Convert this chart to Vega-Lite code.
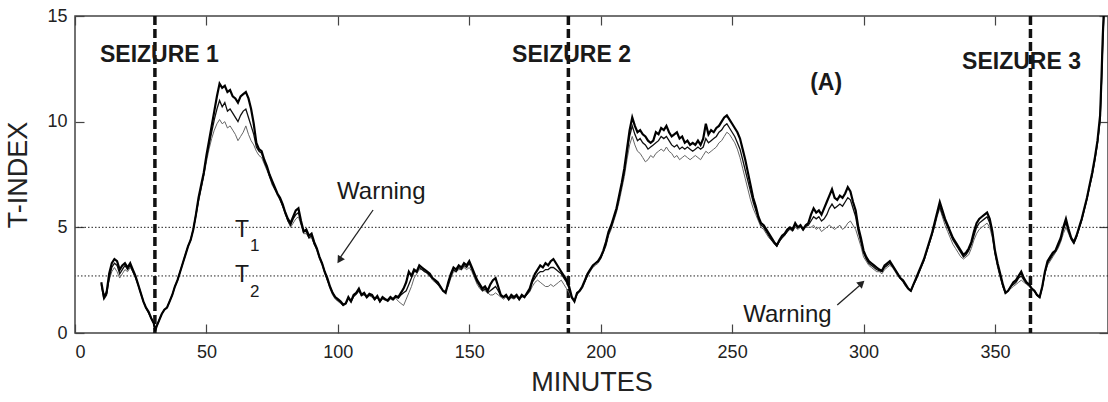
{
"$schema": "https://vega.github.io/schema/vega-lite/v6.json",
"width": 1033, "height": 317,
"autosize": {"type": "none"},
"padding": {"left": 75, "top": 16, "right": 0, "bottom": 69},
"background": "white",
"config": {
  "font": "Liberation Sans",
  "view": {"stroke": "#444", "strokeWidth": 1.5},
  "axis": {"domain": false, "grid": false, "tickSize": -9, "tickColor": "#444", "tickWidth": 1.2, "labelFontSize": 18, "labelColor": "#222", "labelFont": "Liberation Sans", "titleFont": "Liberation Sans", "titleFontSize": 27, "titleFontWeight": "normal", "titleColor": "#222"}
},
"datasets": {
"curves": [
{"m":10,"a":2.4,"b":2.3,"c":2.2},{"m":11,"a":1.7,"b":1.6,"c":1.8},{"m":12,"a":1.9,"b":1.8,"c":2.0},{"m":13,"a":2.8,"b":2.6,"c":2.5},{"m":14,"a":3.3,"b":3.1,"c":2.9},{"m":15,"a":3.5,"b":3.3,"c":3.1},{"m":16,"a":3.4,"b":3.2,"c":2.9},{"m":17,"a":3.0,"b":2.8,"c":2.6},{"m":18,"a":3.2,"b":3.0,"c":2.8},{"m":19,"a":3.3,"b":3.2,"c":3.0},
{"m":20,"a":3.1,"b":3.0,"c":2.9},{"m":21,"a":3.3,"b":3.2,"c":3.1},{"m":22,"a":3.0,"b":2.9,"c":2.9},{"m":23,"a":2.7,"b":2.65,"c":2.6},{"m":24,"a":2.3,"b":2.3,"c":2.25},{"m":25,"a":1.9,"b":1.9,"c":1.85},{"m":26,"a":1.5,"b":1.5,"c":1.5},{"m":27,"a":1.2,"b":1.2,"c":1.2},{"m":28,"a":1.0,"b":0.95,"c":0.95},{"m":29,"a":0.7,"b":0.7,"c":0.7},
{"m":30,"a":0.45,"b":0.45,"c":0.45},{"m":30.5,"a":0.1,"b":0.1,"c":0.1},{"m":31,"a":0.3,"b":0.3,"c":0.3},{"m":32,"a":0.6,"b":0.6,"c":0.6},{"m":33,"a":0.9,"b":0.9,"c":0.9},{"m":34,"a":1.1,"b":1.1,"c":1.1},{"m":35,"a":1.2,"b":1.2,"c":1.2},{"m":36,"a":1.5,"b":1.5,"c":1.5},{"m":37,"a":1.8,"b":1.8,"c":1.8},{"m":38,"a":2.2,"b":2.2,"c":2.2},{"m":39,"a":2.5,"b":2.5,"c":2.5},
{"m":40,"a":2.9,"b":2.9,"c":2.9},{"m":41,"a":3.3,"b":3.3,"c":3.3},{"m":42,"a":3.7,"b":3.7,"c":3.7},{"m":43,"a":4.1,"b":4.1,"c":4.1},{"m":44,"a":4.4,"b":4.4,"c":4.4},{"m":45,"a":4.9,"b":4.9,"c":4.9},{"m":46,"a":5.6,"b":5.6,"c":5.5},{"m":47,"a":6.4,"b":6.3,"c":6.2},{"m":48,"a":7.0,"b":6.9,"c":6.8},{"m":49,"a":7.6,"b":7.5,"c":7.4},
{"m":50,"a":8.4,"b":8.3,"c":8.1},{"m":51,"a":9.1,"b":8.9,"c":8.7},{"m":52,"a":9.8,"b":9.5,"c":9.2},{"m":53,"a":10.5,"b":10.1,"c":9.6},{"m":54,"a":11.2,"b":10.6,"c":9.9},{"m":55,"a":11.8,"b":11.0,"c":10.1},{"m":56,"a":11.6,"b":10.7,"c":9.9},{"m":57,"a":11.7,"b":10.9,"c":10.0},{"m":58,"a":11.4,"b":10.5,"c":9.7},{"m":59,"a":11.5,"b":10.6,"c":9.8},
{"m":60,"a":11.2,"b":10.4,"c":9.6},{"m":61,"a":11.1,"b":10.2,"c":9.4},{"m":62,"a":10.9,"b":10.0,"c":9.1},{"m":63,"a":11.2,"b":10.3,"c":9.3},{"m":64,"a":11.3,"b":10.5,"c":9.5},{"m":65,"a":11.4,"b":10.6,"c":9.8},{"m":66,"a":11.1,"b":10.2,"c":9.4},{"m":67,"a":10.6,"b":9.8,"c":9.1},{"m":68,"a":9.9,"b":9.4,"c":8.9},{"m":69,"a":9.0,"b":8.8,"c":8.6},
{"m":70,"a":8.7,"b":8.6,"c":8.4},{"m":71,"a":8.6,"b":8.5,"c":8.3},{"m":72,"a":8.2,"b":8.1,"c":8.0},{"m":73,"a":7.9,"b":7.8,"c":7.7},{"m":74,"a":7.5,"b":7.4,"c":7.4},{"m":75,"a":7.2,"b":7.1,"c":7.0},{"m":76,"a":6.9,"b":6.8,"c":6.8},{"m":77,"a":6.6,"b":6.6,"c":6.5},{"m":78,"a":6.4,"b":6.3,"c":6.3},{"m":79,"a":6.1,"b":6.0,"c":6.0},
{"m":80,"a":5.7,"b":5.7,"c":5.6},{"m":81,"a":5.4,"b":5.3,"c":5.3},{"m":82,"a":5.2,"b":5.1,"c":5.0},{"m":83,"a":5.5,"b":5.4,"c":5.2},{"m":84,"a":5.8,"b":5.6,"c":5.4},{"m":85,"a":5.9,"b":5.7,"c":5.5},{"m":86,"a":5.3,"b":5.2,"c":5.1},{"m":87,"a":4.8,"b":4.8,"c":4.7},{"m":88,"a":4.9,"b":4.8,"c":4.7},{"m":89,"a":4.6,"b":4.5,"c":4.5},
{"m":90,"a":4.7,"b":4.6,"c":4.5},{"m":91,"a":4.3,"b":4.2,"c":4.2},{"m":92,"a":4.0,"b":4.0,"c":3.9},{"m":93,"a":3.6,"b":3.6,"c":3.5},{"m":94,"a":3.3,"b":3.3,"c":3.2},{"m":95,"a":2.9,"b":2.9,"c":2.8},{"m":96,"a":2.6,"b":2.5,"c":2.5},{"m":97,"a":2.2,"b":2.2,"c":2.1},{"m":98,"a":1.9,"b":1.9,"c":1.8},{"m":99,"a":1.7,"b":1.7,"c":1.6},
{"m":100,"a":1.6,"b":1.55,"c":1.5},{"m":101,"a":1.5,"b":1.45,"c":1.4},{"m":102,"a":1.35,"b":1.3,"c":1.3},{"m":103,"a":1.4,"b":1.4,"c":1.35},{"m":104,"a":1.7,"b":1.65,"c":1.6},{"m":105,"a":1.5,"b":1.5,"c":1.45},{"m":106,"a":1.8,"b":1.75,"c":1.7},{"m":107,"a":1.9,"b":1.85,"c":1.8},{"m":108,"a":2.1,"b":2.0,"c":2.0},{"m":109,"a":1.8,"b":1.8,"c":1.75},
{"m":110,"a":1.9,"b":1.85,"c":1.8},{"m":111,"a":1.7,"b":1.7,"c":1.65},{"m":112,"a":1.85,"b":1.8,"c":1.75},{"m":113,"a":1.8,"b":1.75,"c":1.7},{"m":114,"a":1.6,"b":1.6,"c":1.55},{"m":115,"a":1.75,"b":1.7,"c":1.7},{"m":116,"a":1.5,"b":1.5,"c":1.45},{"m":117,"a":1.7,"b":1.65,"c":1.6},{"m":118,"a":1.6,"b":1.6,"c":1.55},{"m":119,"a":1.55,"b":1.5,"c":1.5},
{"m":120,"a":1.7,"b":1.65,"c":1.6},{"m":121,"a":1.6,"b":1.6,"c":1.55},{"m":122,"a":1.75,"b":1.7,"c":1.65},{"m":123,"a":1.7,"b":1.65,"c":1.5},{"m":124,"a":1.9,"b":1.8,"c":1.4},{"m":125,"a":2.1,"b":1.9,"c":1.3},{"m":126,"a":2.4,"b":2.0,"c":1.6},{"m":127,"a":2.9,"b":2.3,"c":1.9},{"m":128,"a":2.7,"b":2.6,"c":2.2},{"m":129,"a":3.0,"b":2.9,"c":2.6},
{"m":130,"a":2.9,"b":2.9,"c":2.8},{"m":131,"a":3.2,"b":3.1,"c":3.0},{"m":132,"a":3.1,"b":3.0,"c":3.0},{"m":133,"a":3.0,"b":2.9,"c":2.9},{"m":134,"a":2.9,"b":2.85,"c":2.8},{"m":135,"a":2.8,"b":2.7,"c":2.7},{"m":136,"a":2.6,"b":2.6,"c":2.5},{"m":137,"a":2.5,"b":2.45,"c":2.4},{"m":138,"a":2.4,"b":2.3,"c":2.3},{"m":139,"a":2.2,"b":2.2,"c":2.1},
{"m":140,"a":2.0,"b":2.0,"c":2.0},{"m":141,"a":1.9,"b":1.95,"c":2.0},{"m":142,"a":2.4,"b":2.3,"c":2.2},{"m":143,"a":2.8,"b":2.7,"c":2.6},{"m":144,"a":3.1,"b":3.0,"c":2.9},{"m":145,"a":3.0,"b":2.9,"c":2.9},{"m":146,"a":3.2,"b":3.1,"c":3.0},{"m":147,"a":3.1,"b":3.0,"c":3.0},{"m":148,"a":3.3,"b":3.2,"c":3.1},{"m":149,"a":3.2,"b":3.1,"c":3.0},
{"m":150,"a":3.4,"b":3.3,"c":3.1},{"m":151,"a":3.1,"b":3.0,"c":2.9},{"m":152,"a":2.8,"b":2.7,"c":2.6},{"m":153,"a":2.5,"b":2.4,"c":2.3},{"m":154,"a":2.3,"b":2.2,"c":2.1},{"m":155,"a":2.1,"b":2.0,"c":2.0},{"m":156,"a":2.2,"b":2.1,"c":2.0},{"m":157,"a":2.0,"b":1.9,"c":1.9},{"m":158,"a":2.3,"b":2.0,"c":1.8},{"m":159,"a":2.5,"b":2.1,"c":1.8},
{"m":160,"a":2.6,"b":2.2,"c":1.9},{"m":161,"a":2.2,"b":2.0,"c":1.8},{"m":162,"a":1.8,"b":1.75,"c":1.7},{"m":163,"a":1.7,"b":1.7,"c":1.6},{"m":164,"a":1.8,"b":1.75,"c":1.7},{"m":165,"a":1.6,"b":1.6,"c":1.55},{"m":166,"a":1.8,"b":1.7,"c":1.65},{"m":167,"a":1.7,"b":1.65,"c":1.6},{"m":168,"a":1.8,"b":1.75,"c":1.7},{"m":169,"a":1.6,"b":1.6,"c":1.55},
{"m":170,"a":1.8,"b":1.75,"c":1.7},{"m":171,"a":1.7,"b":1.7,"c":1.7},{"m":172,"a":1.9,"b":1.85,"c":1.8},{"m":173,"a":2.1,"b":2.0,"c":1.95},{"m":174,"a":2.5,"b":2.4,"c":2.2},{"m":175,"a":2.8,"b":2.6,"c":2.4},{"m":176,"a":3.0,"b":2.8,"c":2.5},{"m":177,"a":3.2,"b":2.9,"c":2.4},{"m":178,"a":3.1,"b":2.9,"c":2.3},{"m":179,"a":3.3,"b":3.0,"c":2.2},
{"m":180,"a":3.2,"b":3.0,"c":2.2},{"m":181,"a":3.4,"b":3.1,"c":2.3},{"m":182,"a":3.5,"b":3.1,"c":2.2},{"m":183,"a":3.3,"b":3.0,"c":2.3},{"m":184,"a":3.1,"b":2.9,"c":2.4},{"m":185,"a":2.9,"b":2.8,"c":2.5},{"m":186,"a":2.7,"b":2.6,"c":2.3},{"m":187,"a":2.5,"b":2.4,"c":2.1},{"m":188,"a":2.2,"b":2.1,"c":1.9},{"m":189,"a":1.7,"b":1.7,"c":1.6},
{"m":190,"a":1.5,"b":1.5,"c":1.5},{"m":191,"a":1.9,"b":1.85,"c":1.8},{"m":192,"a":2.0,"b":2.0,"c":1.95},{"m":193,"a":2.2,"b":2.2,"c":2.1},{"m":194,"a":2.5,"b":2.45,"c":2.4},{"m":195,"a":2.8,"b":2.75,"c":2.7},{"m":196,"a":3.0,"b":3.0,"c":2.9},{"m":197,"a":3.2,"b":3.15,"c":3.1},{"m":198,"a":3.3,"b":3.3,"c":3.2},{"m":199,"a":3.4,"b":3.4,"c":3.3},
{"m":200,"a":3.6,"b":3.55,"c":3.5},{"m":201,"a":3.9,"b":3.85,"c":3.8},{"m":202,"a":4.3,"b":4.2,"c":4.1},{"m":203,"a":4.8,"b":4.7,"c":4.6},{"m":204,"a":5.1,"b":5.0,"c":4.9},{"m":205,"a":5.5,"b":5.4,"c":5.3},{"m":206,"a":5.9,"b":5.8,"c":5.7},{"m":207,"a":6.5,"b":6.4,"c":6.2},{"m":208,"a":7.1,"b":7.0,"c":6.8},{"m":209,"a":7.8,"b":7.6,"c":7.4},
{"m":210,"a":8.7,"b":8.5,"c":8.2},{"m":211,"a":9.6,"b":9.3,"c":8.9},{"m":212,"a":10.2,"b":9.8,"c":9.3},{"m":213,"a":9.8,"b":9.4,"c":8.9},{"m":214,"a":9.5,"b":9.1,"c":8.6},{"m":215,"a":9.6,"b":9.2,"c":8.5},{"m":216,"a":9.4,"b":9.0,"c":8.3},{"m":217,"a":9.3,"b":8.9,"c":8.1},{"m":218,"a":9.1,"b":8.7,"c":8.2},{"m":219,"a":9.0,"b":8.8,"c":8.4},
{"m":220,"a":9.1,"b":8.9,"c":8.3},{"m":221,"a":9.5,"b":9.0,"c":8.5},{"m":222,"a":9.4,"b":9.1,"c":8.6},{"m":223,"a":9.7,"b":9.3,"c":8.7},{"m":224,"a":9.6,"b":9.2,"c":8.6},{"m":225,"a":9.8,"b":9.3,"c":8.8},{"m":226,"a":9.5,"b":9.1,"c":8.6},{"m":227,"a":9.3,"b":8.9,"c":8.5},{"m":228,"a":9.4,"b":8.8,"c":8.3},{"m":229,"a":9.5,"b":8.9,"c":8.4},
{"m":230,"a":9.2,"b":8.7,"c":8.2},{"m":231,"a":9.3,"b":8.8,"c":8.3},{"m":232,"a":9.0,"b":8.7,"c":8.4},{"m":233,"a":9.1,"b":8.8,"c":8.3},{"m":234,"a":8.9,"b":8.7,"c":8.2},{"m":235,"a":9.0,"b":8.6,"c":8.3},{"m":236,"a":8.9,"b":8.7,"c":8.4},{"m":237,"a":9.1,"b":8.8,"c":8.3},{"m":238,"a":8.9,"b":8.7,"c":8.2},{"m":239,"a":9.2,"b":8.8,"c":8.4},
{"m":240,"a":9.9,"b":9.2,"c":8.6},{"m":241,"a":9.4,"b":9.0,"c":8.5},{"m":242,"a":9.6,"b":9.1,"c":8.6},{"m":243,"a":9.5,"b":9.2,"c":8.7},{"m":244,"a":9.7,"b":9.3,"c":8.8},{"m":245,"a":9.8,"b":9.5,"c":9.0},{"m":246,"a":10.0,"b":9.6,"c":9.1},{"m":247,"a":10.2,"b":9.8,"c":9.3},{"m":248,"a":10.3,"b":9.9,"c":9.5},{"m":249,"a":10.1,"b":9.7,"c":9.4},
{"m":250,"a":9.9,"b":9.5,"c":9.2},{"m":251,"a":9.7,"b":9.3,"c":9.0},{"m":252,"a":9.5,"b":9.0,"c":8.7},{"m":253,"a":9.2,"b":8.7,"c":8.3},{"m":254,"a":8.7,"b":8.2,"c":7.8},{"m":255,"a":8.2,"b":7.7,"c":7.3},{"m":256,"a":7.6,"b":7.2,"c":6.8},{"m":257,"a":7.0,"b":6.7,"c":6.3},{"m":258,"a":6.4,"b":6.2,"c":5.9},{"m":259,"a":6.0,"b":5.8,"c":5.6},
{"m":260,"a":5.5,"b":5.4,"c":5.3},{"m":261,"a":5.2,"b":5.1,"c":5.0},{"m":262,"a":5.1,"b":5.0,"c":4.9},{"m":263,"a":4.9,"b":4.8,"c":4.7},{"m":264,"a":4.7,"b":4.6,"c":4.5},{"m":265,"a":4.5,"b":4.4,"c":4.4},{"m":266,"a":4.3,"b":4.25,"c":4.2},{"m":267,"a":4.15,"b":4.1,"c":4.1},{"m":268,"a":4.4,"b":4.35,"c":4.3},{"m":269,"a":4.6,"b":4.5,"c":4.5},
{"m":270,"a":4.7,"b":4.65,"c":4.6},{"m":271,"a":4.9,"b":4.8,"c":4.8},{"m":272,"a":5.0,"b":4.95,"c":4.9},{"m":273,"a":4.9,"b":4.85,"c":4.8},{"m":274,"a":5.2,"b":5.1,"c":5.0},{"m":275,"a":5.0,"b":5.0,"c":4.9},{"m":276,"a":5.1,"b":5.05,"c":5.0},{"m":277,"a":4.9,"b":4.9,"c":4.85},{"m":278,"a":5.1,"b":5.05,"c":5.0},{"m":279,"a":5.2,"b":5.1,"c":5.0},
{"m":280,"a":5.6,"b":5.3,"c":5.0},{"m":281,"a":5.9,"b":5.5,"c":5.1},{"m":282,"a":5.7,"b":5.4,"c":4.9},{"m":283,"a":5.8,"b":5.5,"c":5.0},{"m":284,"a":5.6,"b":5.3,"c":4.8},{"m":285,"a":5.9,"b":5.4,"c":4.9},{"m":286,"a":6.2,"b":5.6,"c":5.0},{"m":287,"a":6.5,"b":5.9,"c":5.1},{"m":288,"a":6.8,"b":6.1,"c":5.0},{"m":289,"a":6.4,"b":5.9,"c":4.9},
{"m":290,"a":6.3,"b":6.0,"c":5.0},{"m":291,"a":6.5,"b":6.1,"c":5.1},{"m":292,"a":6.4,"b":6.0,"c":4.9},{"m":293,"a":6.6,"b":6.2,"c":5.0},{"m":294,"a":6.9,"b":6.4,"c":5.2},{"m":295,"a":6.7,"b":6.3,"c":5.3},{"m":296,"a":6.2,"b":5.9,"c":5.1},{"m":297,"a":5.8,"b":5.5,"c":4.9},{"m":298,"a":5.0,"b":4.8,"c":4.5},{"m":299,"a":4.5,"b":4.3,"c":4.1},
{"m":300,"a":3.9,"b":3.8,"c":3.6},{"m":301,"a":3.6,"b":3.5,"c":3.4},{"m":302,"a":3.4,"b":3.3,"c":3.2},{"m":303,"a":3.3,"b":3.2,"c":3.1},{"m":304,"a":3.2,"b":3.1,"c":3.0},{"m":305,"a":3.1,"b":3.0,"c":2.9},{"m":306,"a":3.0,"b":2.95,"c":2.9},{"m":307,"a":2.95,"b":2.9,"c":2.8},{"m":308,"a":3.2,"b":3.1,"c":3.0},{"m":309,"a":3.3,"b":3.2,"c":3.1},
{"m":310,"a":3.4,"b":3.3,"c":3.2},{"m":311,"a":3.2,"b":3.15,"c":3.1},{"m":312,"a":3.0,"b":3.0,"c":2.9},{"m":313,"a":2.8,"b":2.8,"c":2.7},{"m":314,"a":2.6,"b":2.6,"c":2.55},{"m":315,"a":2.5,"b":2.45,"c":2.4},{"m":316,"a":2.3,"b":2.25,"c":2.2},{"m":317,"a":2.1,"b":2.1,"c":2.05},{"m":318,"a":2.0,"b":2.0,"c":1.95},{"m":319,"a":2.3,"b":2.3,"c":2.25},
{"m":320,"a":2.6,"b":2.55,"c":2.5},{"m":321,"a":2.9,"b":2.85,"c":2.8},{"m":322,"a":3.2,"b":3.15,"c":3.1},{"m":323,"a":3.5,"b":3.45,"c":3.4},{"m":324,"a":3.9,"b":3.85,"c":3.8},{"m":325,"a":4.3,"b":4.25,"c":4.2},{"m":326,"a":4.7,"b":4.65,"c":4.6},{"m":327,"a":5.2,"b":5.1,"c":5.0},{"m":328,"a":5.7,"b":5.6,"c":5.5},{"m":329,"a":6.2,"b":6.0,"c":5.9},
{"m":330,"a":5.8,"b":5.6,"c":5.5},{"m":331,"a":5.4,"b":5.3,"c":5.1},{"m":332,"a":5.1,"b":5.0,"c":4.8},{"m":333,"a":4.8,"b":4.7,"c":4.5},{"m":334,"a":4.5,"b":4.4,"c":4.2},{"m":335,"a":4.3,"b":4.2,"c":4.0},{"m":336,"a":4.1,"b":4.0,"c":3.8},{"m":337,"a":3.9,"b":3.8,"c":3.6},{"m":338,"a":3.7,"b":3.6,"c":3.5},{"m":339,"a":3.8,"b":3.7,"c":3.6},
{"m":340,"a":4.0,"b":3.9,"c":3.7},{"m":341,"a":4.3,"b":4.2,"c":4.0},{"m":342,"a":4.8,"b":4.6,"c":4.4},{"m":343,"a":5.2,"b":5.0,"c":4.7},{"m":344,"a":5.4,"b":5.2,"c":4.9},{"m":345,"a":5.5,"b":5.3,"c":5.0},{"m":346,"a":5.6,"b":5.4,"c":5.1},{"m":347,"a":5.7,"b":5.5,"c":5.2},{"m":348,"a":5.4,"b":5.2,"c":5.0},{"m":349,"a":4.8,"b":4.7,"c":4.5},
{"m":350,"a":3.9,"b":3.8,"c":3.7},{"m":351,"a":3.3,"b":3.2,"c":3.1},{"m":352,"a":2.8,"b":2.7,"c":2.6},{"m":353,"a":2.3,"b":2.2,"c":2.2},{"m":354,"a":1.9,"b":1.9,"c":1.85},{"m":355,"a":2.0,"b":2.0,"c":2.0},{"m":356,"a":2.2,"b":2.2,"c":2.1},{"m":357,"a":2.4,"b":2.3,"c":2.2},{"m":358,"a":2.5,"b":2.4,"c":2.3},{"m":359,"a":2.7,"b":2.6,"c":2.4},
{"m":360,"a":2.9,"b":2.7,"c":2.5},{"m":361,"a":2.6,"b":2.5,"c":2.4},{"m":362,"a":2.4,"b":2.35,"c":2.3},{"m":363,"a":2.3,"b":2.25,"c":2.2},{"m":364,"a":2.1,"b":2.1,"c":2.05},{"m":365,"a":2.0,"b":2.0,"c":1.95},{"m":366,"a":1.8,"b":1.8,"c":1.75},{"m":367,"a":1.7,"b":1.7,"c":1.65},{"m":368,"a":2.2,"b":2.2,"c":2.1},{"m":369,"a":2.9,"b":2.85,"c":2.8},
{"m":370,"a":3.4,"b":3.3,"c":3.2},{"m":371,"a":3.6,"b":3.5,"c":3.4},{"m":372,"a":3.8,"b":3.7,"c":3.6},{"m":373,"a":3.9,"b":3.85,"c":3.8},{"m":374,"a":4.2,"b":4.1,"c":4.0},{"m":375,"a":4.5,"b":4.4,"c":4.3},{"m":376,"a":5.0,"b":4.9,"c":4.7},{"m":377,"a":5.4,"b":5.2,"c":5.0},{"m":378,"a":4.9,"b":4.8,"c":4.7},{"m":379,"a":4.5,"b":4.45,"c":4.4},
{"m":380,"a":4.3,"b":4.25,"c":4.2},{"m":381,"a":4.6,"b":4.55,"c":4.5},{"m":382,"a":5.0,"b":4.95,"c":4.9},{"m":383,"a":5.4,"b":5.35,"c":5.3},{"m":384,"a":5.9,"b":5.85,"c":5.8},{"m":385,"a":6.4,"b":6.35,"c":6.3},{"m":386,"a":7.0,"b":6.95,"c":6.9},{"m":387,"a":7.6,"b":7.5,"c":7.4},{"m":388,"a":8.3,"b":8.2,"c":8.1},{"m":389,"a":9.1,"b":9.0,"c":8.9},
{"m":390,"a":10.3,"b":10.1,"c":10.0},{"m":390.5,"a":12.0,"b":11.8,"c":11.6},{"m":391,"a":14.0,"b":13.8,"c":13.5},{"m":391.5,"a":15.5,"b":15.3,"c":15.1},{"m":392,"a":16.5,"b":16.3,"c":16.1}
]
},
"layer": [
{
  "data": {"values": [{"t": 5}, {"t": 2.7}]},
  "mark": {"type": "rule", "color": "#222", "strokeWidth": 1, "strokeDash": [1.5, 2]},
  "encoding": {
    "y": {"field": "t", "type": "quantitative", "scale": {"domain": [0, 15], "nice": false, "zero": false}, "axis": {"orient": "right", "labels": false, "title": null, "values": [0, 5, 10, 15]}}
  }
},
{
  "data": {"values": [{"s": 30.4}, {"s": 187.7}, {"s": 363.5}]},
  "mark": {"type": "rule", "color": "#111", "strokeWidth": 3.5, "strokeDash": [9, 4]},
  "encoding": {
    "x": {"field": "s", "type": "quantitative", "scale": {"domain": [0, 393], "nice": false, "zero": false}, "axis": {"orient": "top", "labels": false, "title": null, "values": [0, 50, 100, 150, 200, 250, 300, 350]}}
  }
},
{
  "data": {"name": "curves"},
  "mark": {"type": "line", "color": "#666", "strokeWidth": 1, "clip": true},
  "encoding": {
    "x": {"field": "m", "type": "quantitative", "axis": {"orient": "bottom", "title": "MINUTES", "values": [0, 50, 100, 150, 200, 250, 300, 350], "labelPadding": 19, "titlePadding": 8}},
    "y": {"field": "c", "type": "quantitative", "axis": {"orient": "left", "title": "T-INDEX", "values": [0, 5, 10, 15], "labelPadding": 17, "titlePadding": 14}}
  }
},
{
  "data": {"name": "curves"},
  "mark": {"type": "line", "color": "#111", "strokeWidth": 1.3, "clip": true},
  "encoding": {
    "x": {"field": "m", "type": "quantitative", "axis": null},
    "y": {"field": "b", "type": "quantitative", "axis": null}
  }
},
{
  "data": {"name": "curves"},
  "mark": {"type": "line", "color": "#000", "strokeWidth": 2.2, "clip": true},
  "encoding": {
    "x": {"field": "m", "type": "quantitative", "axis": null},
    "y": {"field": "a", "type": "quantitative", "axis": null}
  }
},
{
  "data": {"values": [{"m": 9.5, "v": 13.15, "label": "SEIZURE 1"}, {"m": 166.3, "v": 13.15, "label": "SEIZURE 2"}, {"m": 337.5, "v": 12.83, "label": "SEIZURE 3"}, {"m": 279.7, "v": 11.83, "label": "(A)"}]},
  "mark": {"type": "text", "align": "left", "baseline": "middle", "fontSize": 23, "fontWeight": "bold", "color": "#1a1a1a", "font": "Liberation Sans"},
  "encoding": {
    "x": {"field": "m", "type": "quantitative", "axis": null},
    "y": {"field": "v", "type": "quantitative", "axis": null},
    "text": {"field": "label"}
  }
},
{
  "data": {"values": [{"m": 99.7, "v": 6.67, "label": "Warning"}, {"m": 254.2, "v": 0.85, "label": "Warning"}]},
  "mark": {"type": "text", "align": "left", "baseline": "middle", "fontSize": 24, "color": "#1a1a1a", "font": "Liberation Sans"},
  "encoding": {
    "x": {"field": "m", "type": "quantitative", "axis": null},
    "y": {"field": "v", "type": "quantitative", "axis": null},
    "text": {"field": "label"}
  }
},
{
  "data": {"values": [{"m": 60.9, "v": 4.87, "label": "T"}, {"m": 60.9, "v": 2.74, "label": "T"}]},
  "mark": {"type": "text", "align": "left", "baseline": "middle", "fontSize": 23, "color": "#1a1a1a", "font": "Liberation Sans"},
  "encoding": {
    "x": {"field": "m", "type": "quantitative", "axis": null},
    "y": {"field": "v", "type": "quantitative", "axis": null},
    "text": {"field": "label"}
  }
},
{
  "data": {"values": [{"m": 66.6, "v": 4.12, "label": "1"}, {"m": 66.6, "v": 1.94, "label": "2"}]},
  "mark": {"type": "text", "align": "left", "baseline": "middle", "fontSize": 17, "color": "#1a1a1a", "font": "Liberation Sans"},
  "encoding": {
    "x": {"field": "m", "type": "quantitative", "axis": null},
    "y": {"field": "v", "type": "quantitative", "axis": null},
    "text": {"field": "label"}
  }
},
{
  "data": {"values": [{"m": 113.4, "v": 5.82, "m2": 100.5, "v2": 3.5}, {"m": 290, "v": 1.33, "m2": 299.5, "v2": 2.35}]},
  "mark": {"type": "rule", "color": "#222", "strokeWidth": 1.3},
  "encoding": {
    "x": {"field": "m", "type": "quantitative", "axis": null},
    "y": {"field": "v", "type": "quantitative", "axis": null},
    "x2": {"field": "m2"},
    "y2": {"field": "v2"}
  }
},
{
  "data": {"values": [{"m": 100.6, "v": 3.45}]},
  "mark": {"type": "point", "shape": "triangle-up", "filled": true, "color": "#222", "size": 70, "angle": 213, "opacity": 1},
  "encoding": {
    "x": {"field": "m", "type": "quantitative", "axis": null},
    "y": {"field": "v", "type": "quantitative", "axis": null}
  }
},
{
  "data": {"values": [{"m": 299.3, "v": 2.36}]},
  "mark": {"type": "point", "shape": "triangle-up", "filled": true, "color": "#222", "size": 70, "angle": 48, "opacity": 1},
  "encoding": {
    "x": {"field": "m", "type": "quantitative", "axis": null},
    "y": {"field": "v", "type": "quantitative", "axis": null}
  }
}
]
}
